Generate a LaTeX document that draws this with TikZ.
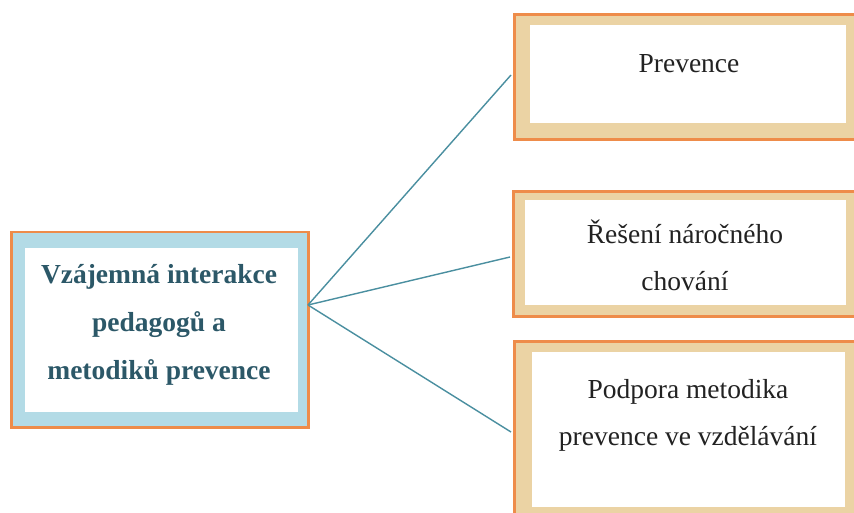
\documentclass[tikz,border=0pt]{standalone}
\usepackage{fontspec}
\setmainfont{Liberation Serif}
\definecolor{boxorange}{HTML}{EE8C4A}
\definecolor{boxtan}{HTML}{EBD3A4}
\definecolor{boxblue}{HTML}{B3DBE6}
\definecolor{connteal}{HTML}{4A8FA0}
\definecolor{lefttext}{HTML}{2C5868}
\definecolor{righttext}{HTML}{222222}
\begin{document}
\begin{tikzpicture}[x=1pt,y=-1pt,
  leftbox/.style={draw=boxorange, line width=2.5pt, fill=boxblue, anchor=north west, inner sep=0pt},
  tanbox/.style={draw=boxorange, line width=3pt, fill=boxtan, anchor=north west, inner sep=0pt},
  innerwhite/.style={fill=white},
  lefttxt/.style={font=\fontsize{27.5}{48}\selectfont\bfseries, text=lefttext, align=center, inner sep=0pt},
  righttxt/.style={font=\fontsize{27.5}{47}\selectfont, text=righttext, align=center, inner sep=0pt},
  conn/.style={draw=connteal, line width=1.4pt}]
\useasboundingbox (0,0) rectangle (854,513);
\clip (0,0) rectangle (854,513);
\fill[white] (0,0) rectangle (854,513);

% left box
\node[leftbox, minimum width=297pt, minimum height=195pt] (lbox) at (10,231) {};
\fill[innerwhite] (25,248) rectangle (298,412);
\node[lefttxt] (ltext) at (159,325) {Vzájemná interakce\\pedagogů a\\metodiků prevence};

% right boxes
\node[tanbox, minimum width=345pt, minimum height=125pt] (b1) at (513,13) {};
\fill[innerwhite] (530,25) rectangle (846,123);
\node[righttxt, anchor=base] (t1) at (689,73) {Prevence};

\node[tanbox, minimum width=346pt, minimum height=125pt] (b2) at (512,190) {};
\fill[innerwhite] (525,200) rectangle (846,305);
\node[righttxt] (t2) at (685,255) {Řešení náročného\\chování};

\node[tanbox, minimum width=345pt, minimum height=180pt] (b3) at (513,340) {};
\fill[innerwhite] (532,352) rectangle (845,507);
\node[righttxt] (t3) at (688,415) {Podpora metodika\\prevence ve vzdělávání};

% connectors
\coordinate (j) at (308,305);
\coordinate (e1) at (511,75);
\coordinate (e2) at (510,257);
\coordinate (e3) at (511,432);
\draw[conn] (j) -- (e1);
\draw[conn] (j) -- (e2);
\draw[conn] (j) -- (e3);
\end{tikzpicture}
\end{document}
